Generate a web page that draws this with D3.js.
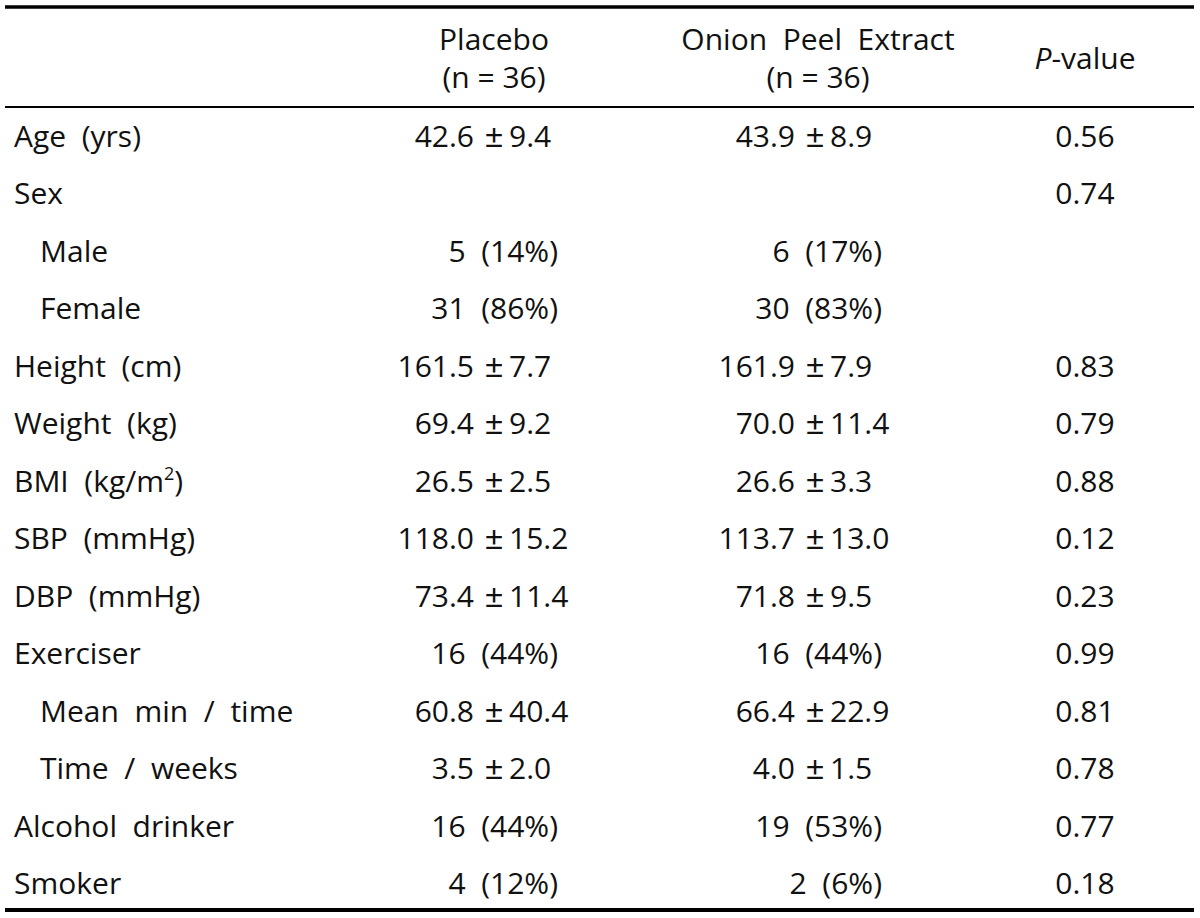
<!DOCTYPE html>
<html>
<head>
<meta charset="utf-8">
<script src="https://cdn.jsdelivr.net/npm/d3@7"></script>
<style>
  html, body { margin: 0; padding: 0; background: #fff; }
  svg text { white-space: pre; font-family: "Open Sans", "Noto Sans", sans-serif; fill: #111; }
  svg text.pm { font-family: "Liberation Sans", "DejaVu Sans", sans-serif; }
</style>
</head>
<body>
<svg id="chart" width="1200" height="918"></svg>
<script>
// ---- data ----
const rowLabels = ["Age  (yrs)", "Sex", "Male", "Female", "Height  (cm)", "Weight  (kg)",
  "BMI  (kg/m^2)", "SBP  (mmHg)", "DBP  (mmHg)", "Exerciser", "Mean  min  /  time",
  "Time  /  weeks", "Alcohol  drinker", "Smoker"];
const rowLevel = [0, 0, 1, 1, 0, 0, 0, 0, 0, 0, 1, 1, 0, 0];
const placeboValues = ["42.6 ± 9.4", "", "5  (14%)", "31  (86%)", "161.5 ± 7.7", "69.4 ± 9.2",
  "26.5 ± 2.5", "118.0 ± 15.2", "73.4 ± 11.4", "16  (44%)", "60.8 ± 40.4", "3.5 ± 2.0",
  "16  (44%)", "4  (12%)"];
const onionValues = ["43.9 ± 8.9", "", "6  (17%)", "30  (83%)", "161.9 ± 7.9", "70.0 ± 11.4",
  "26.6 ± 3.3", "113.7 ± 13.0", "71.8 ± 9.5", "16  (44%)", "66.4 ± 22.9", "4.0 ± 1.5",
  "19  (53%)", "2  (6%)"];
const pValues = ["0.56", "0.74", "", "", "0.83", "0.79", "0.88", "0.12", "0.23", "0.99",
  "0.81", "0.78", "0.77", "0.18"];
const groupNames = ["Placebo", "Onion  Peel  Extract"];
const groupN = ["(n = 36)", "(n = 36)"];
const pHeader = ["P", "-value"];

// ---- layout ----
const svg = d3.select("#chart");
const FS = 30;
const lineX0 = 5, lineX1 = 1194;

const y = d3.scalePoint().domain(d3.range(rowLabels.length)).range([137, 884]);
const baseline = i => y(i) + 10;

const cols = [
  { pm: 494, right: 558, values: placeboValues, center: 494 },
  { pm: 815, right: 882, values: onionValues, center: 818 }
];
const pCenter = 1085;
const labelX = d3.scaleOrdinal().domain([0, 1]).range([14, 40]);

// rules
svg.append("line").attr("x1", lineX0).attr("x2", lineX1).attr("y1", 7).attr("y2", 7)
  .attr("stroke", "#000").attr("stroke-width", 3.5);
svg.append("line").attr("x1", lineX0).attr("x2", lineX1).attr("y1", 107).attr("y2", 107)
  .attr("stroke", "#000").attr("stroke-width", 1.8);
svg.append("line").attr("x1", lineX0).attr("x2", lineX1).attr("y1", 910).attr("y2", 910)
  .attr("stroke", "#000").attr("stroke-width", 4);

// headers
cols.forEach((c, k) => {
  svg.append("text").attr("x", c.center).attr("y", 50).attr("text-anchor", "middle")
    .attr("font-size", FS).text(groupNames[k]);
  svg.append("text").attr("x", c.center).attr("y", 88).attr("text-anchor", "middle")
    .attr("font-size", FS).text(groupN[k]);
});
const ph = svg.append("text").attr("x", pCenter).attr("y", 69).attr("text-anchor", "middle")
  .attr("font-size", FS);
ph.append("tspan").attr("font-style", "italic").text(pHeader[0]);
ph.append("tspan").text(pHeader[1]);

// row labels
const lab = svg.append("g").selectAll("text").data(rowLabels).join("text")
  .attr("x", (d, i) => labelX(rowLevel[i]))
  .attr("y", (d, i) => baseline(i))
  .attr("font-size", FS);
lab.each(function (d) {
  const t = d3.select(this);
  if (d.includes("^")) {
    const [a, rest] = d.split("^");
    t.append("tspan").text(a);
    t.append("tspan").attr("font-size", FS * 0.6).attr("dy", -12).text(rest[0]);
    t.append("tspan").attr("dy", 12).text(rest.slice(1));
  } else t.text(d);
});

// group values
cols.forEach(c => {
  const g = svg.append("g");
  c.values.forEach((v, i) => {
    if (!v) return;
    if (v.includes("±")) {
      const [a, b] = v.split("±").map(s => s.trim());
      g.append("text").attr("x", c.pm - 20).attr("y", baseline(i)).attr("text-anchor", "end")
        .attr("font-size", FS).text(a);
      g.append("text").attr("class", "pm").attr("x", c.pm).attr("y", baseline(i))
        .attr("text-anchor", "middle").attr("font-size", FS + 2).text("±");
      g.append("text").attr("x", c.pm + 15).attr("y", baseline(i)).attr("text-anchor", "start")
        .attr("font-size", FS).text(b);
    } else {
      g.append("text").attr("x", c.right).attr("y", baseline(i)).attr("text-anchor", "end")
        .attr("font-size", FS).text(v);
    }
  });
});

// p-values
svg.append("g").selectAll("text").data(pValues).join("text")
  .attr("x", pCenter).attr("y", (d, i) => baseline(i)).attr("text-anchor", "middle")
  .attr("font-size", FS).text(d => d);
</script>
</body>
</html>
